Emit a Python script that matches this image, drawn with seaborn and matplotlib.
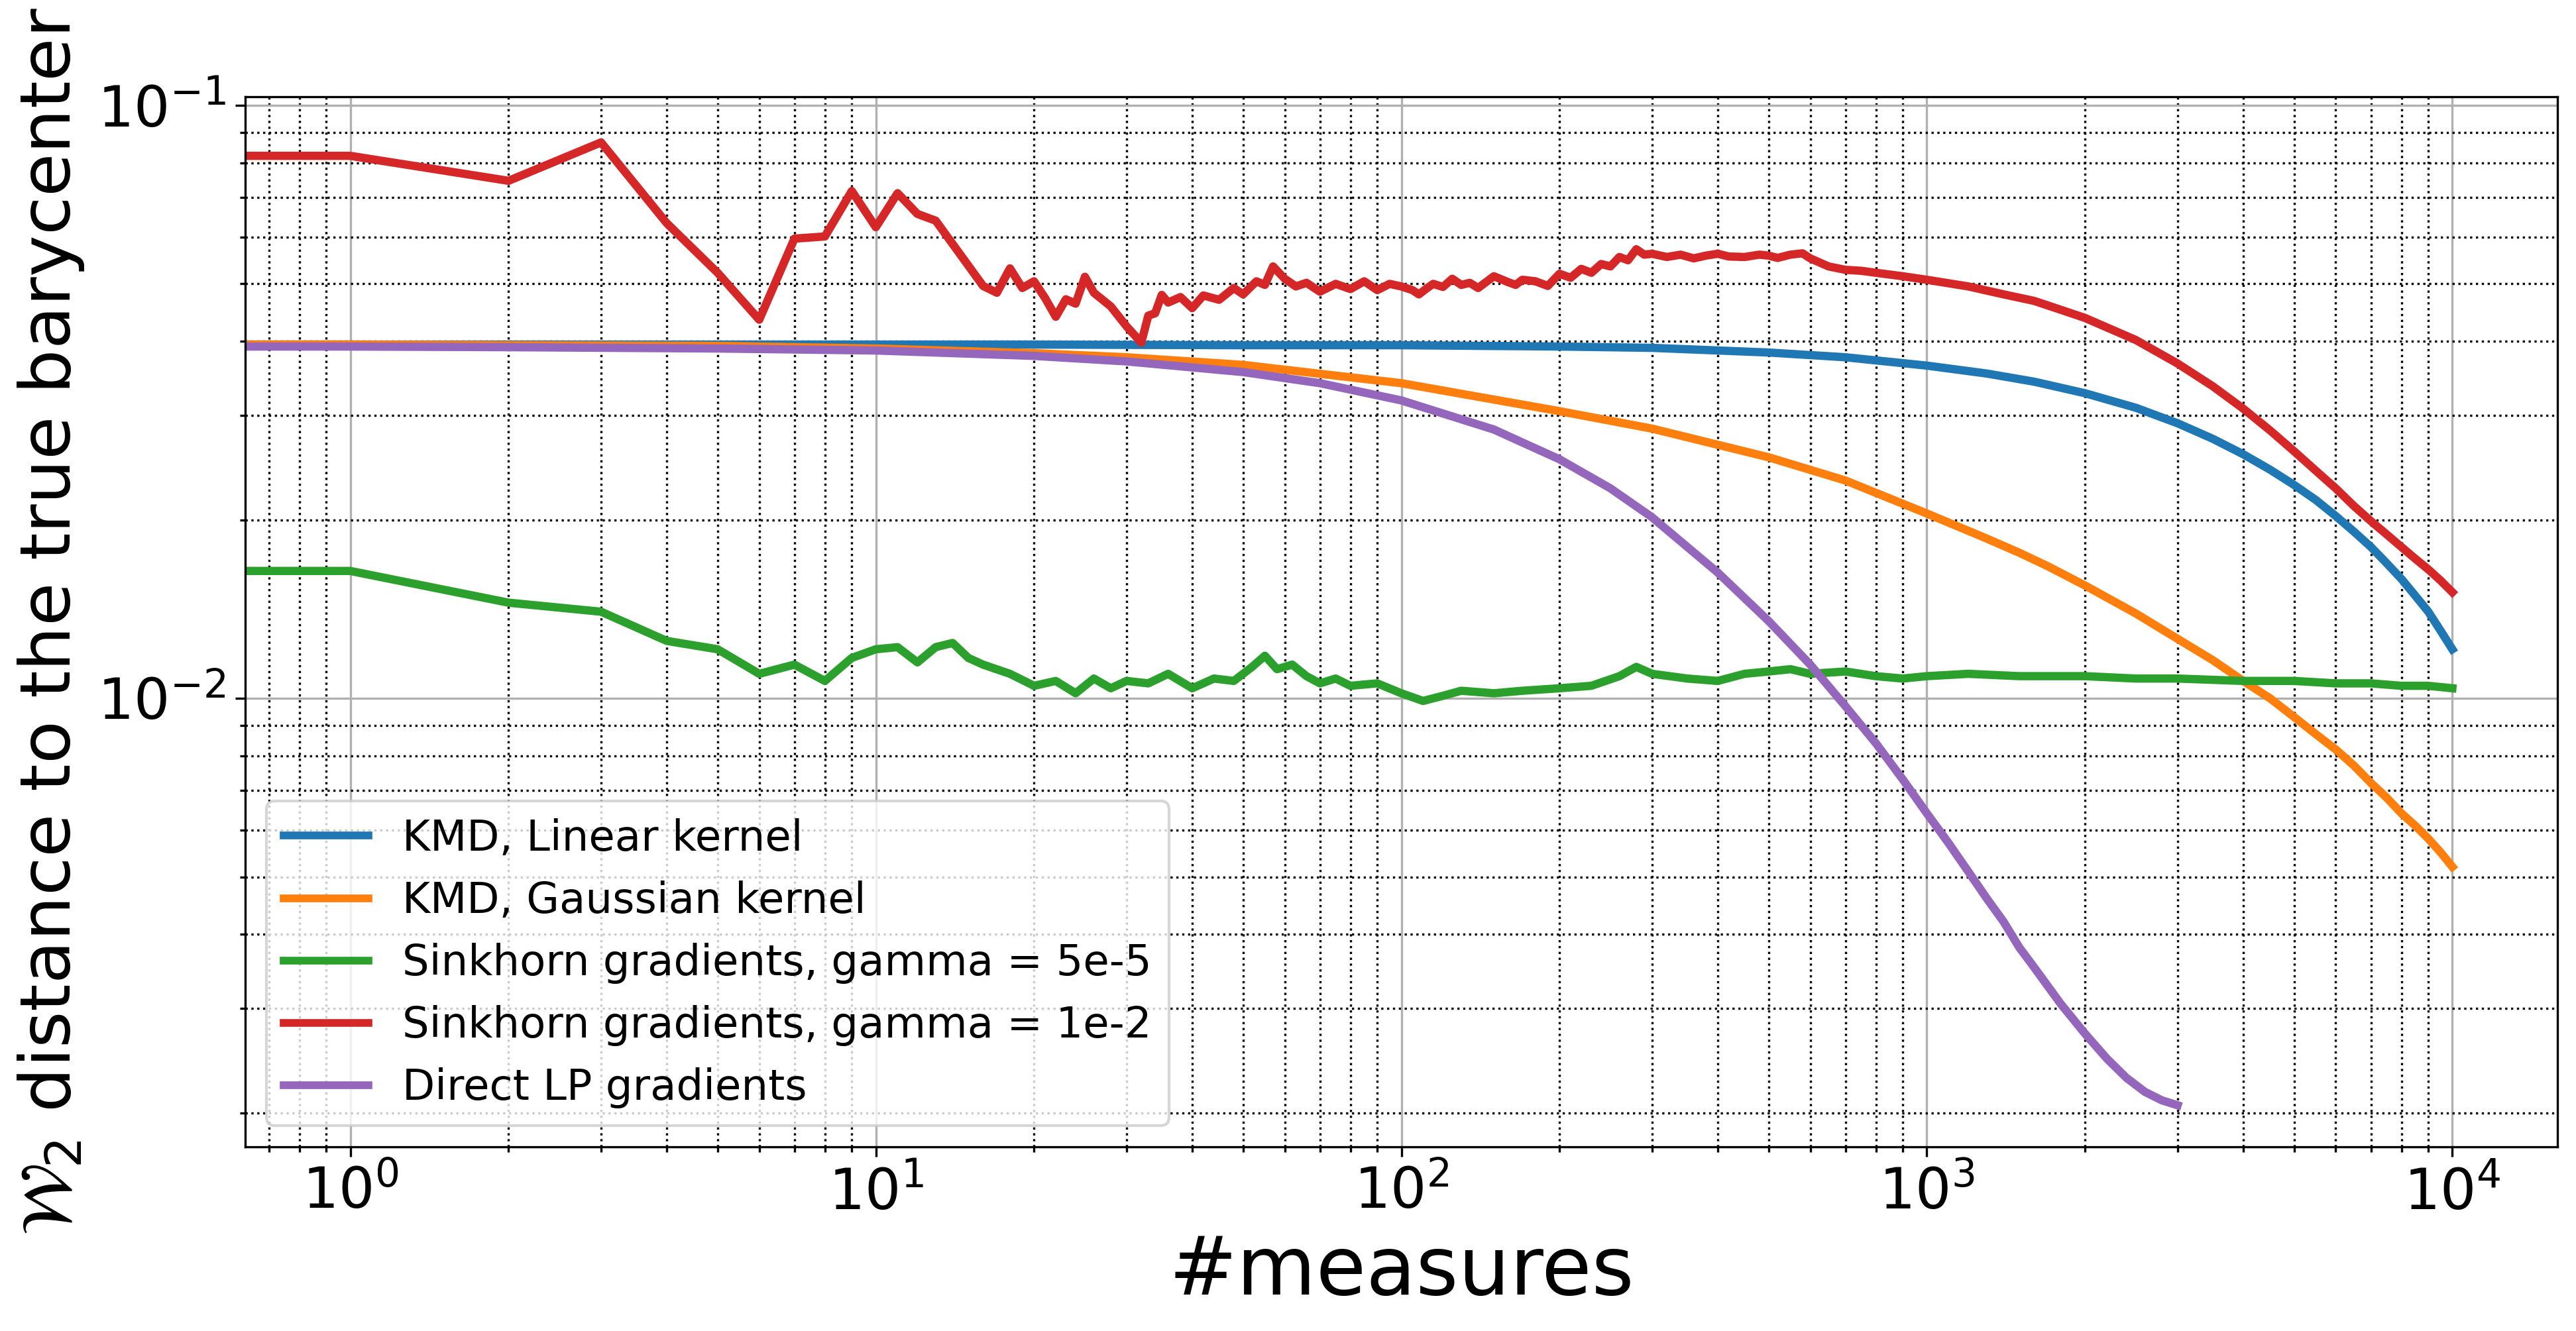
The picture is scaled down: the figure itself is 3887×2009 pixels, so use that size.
import numpy as np
import pandas as pd
import matplotlib
matplotlib.use("Agg")
import matplotlib.pyplot as plt
import seaborn as sns

# ---------------- data ----------------
labels = ["KMD, Linear kernel", "KMD, Gaussian kernel",
          "Sinkhorn gradients, gamma = 5e-5", "Sinkhorn gradients, gamma = 1e-2",
          "Direct LP gradients"]
colors = ["#1f77b4", "#ff7f0e", "#2ca02c", "#d62728", "#9467bd"]

blue_x = [0, 1, 2, 5, 10, 20, 50, 100, 200, 300, 500, 700, 1000, 1300, 1600, 2000,
          2500, 3000, 3500, 4000, 4500, 5000, 5500, 6000, 6500, 7000, 7500, 8000,
          8500, 9000, 9500, 10000]
blue_y = [0.0395, 0.0395, 0.0395, 0.0395, 0.0395, 0.0395, 0.0394, 0.0394, 0.0392,
          0.0390, 0.0383, 0.0376, 0.0364, 0.0353, 0.0342, 0.0327, 0.0309, 0.0291,
          0.0274, 0.0258, 0.0243, 0.0229, 0.0216, 0.0203, 0.0191, 0.0180, 0.0169,
          0.0159, 0.0149, 0.0140, 0.0130, 0.0121]

orange_x = [0, 1, 2, 5, 10, 20, 30, 50, 100, 200, 300, 500, 700, 1000, 1300, 1500,
            1700, 2000, 2500, 3000, 3500, 4000, 4500, 5000, 5500, 6000, 6500, 7000,
            7500, 8000, 8500, 9000, 9500, 10000]
orange_y = [0.0395, 0.0395, 0.0394, 0.0393, 0.0389, 0.0382, 0.0376, 0.0365, 0.0340,
            0.0305, 0.0285, 0.0255, 0.0233, 0.0205, 0.0186, 0.0176, 0.0167, 0.0155,
            0.0139, 0.0126, 0.0116, 0.0107, 0.0100, 0.0093, 0.0087, 0.0082, 0.0077,
            0.0072, 0.0068, 0.0064, 0.0061, 0.0058, 0.0055, 0.0052]

green_x = [0, 1, 2, 3, 4, 5, 6, 7, 8, 9, 10, 11, 12, 13, 14, 15, 16, 18, 20, 22, 24,
           26, 28, 30, 33, 36, 40, 44, 48, 52, 55, 58, 62, 66, 70, 75, 80, 90, 100,
           110, 120, 130, 150, 170, 200, 230, 260, 280, 300, 350, 400, 450, 500, 550,
           600, 700, 800, 900, 1000, 1200, 1500, 2000, 2500, 3000, 4000, 5000, 6000,
           7000, 8000, 9000, 10000]
green_y = [0.0164, 0.0164, 0.0145, 0.0140, 0.0125, 0.0121, 0.0110, 0.0114, 0.0107,
           0.0117, 0.0121, 0.0122, 0.0115, 0.0122, 0.0124, 0.0117, 0.0114, 0.0110,
           0.0105, 0.0107, 0.0102, 0.0108, 0.0104, 0.0107, 0.0106, 0.0110, 0.0104,
           0.0108, 0.0107, 0.0113, 0.0118, 0.0112, 0.0114, 0.0109, 0.0106, 0.0108,
           0.0105, 0.0106, 0.0102, 0.0099, 0.0101, 0.0103, 0.0102, 0.0103, 0.0104,
           0.0105, 0.0109, 0.0113, 0.0110, 0.0108, 0.0107, 0.0110, 0.0111, 0.0112,
           0.0110, 0.0111, 0.0109, 0.0108, 0.0109, 0.0110, 0.0109, 0.0109, 0.0108,
           0.0108, 0.0107, 0.0107, 0.0106, 0.0106, 0.0105, 0.0105, 0.0104]

red_x = [0, 1, 2, 3, 4, 5, 6, 7, 8, 9, 10, 11, 12, 13, 16, 17, 18, 19, 20, 21, 22, 23,
         24, 25, 26, 28, 30, 32, 33, 34, 35, 36, 38, 40, 42, 45, 48, 50, 53, 55, 57,
         60, 63, 66, 70, 75, 80, 85, 90, 95, 100, 105, 108, 112, 115, 120, 125, 130,
         135, 140, 150, 160, 165, 170, 180, 190, 200, 210, 220, 230, 240, 250, 260,
         270, 280, 290, 300, 320, 340, 360, 380, 400, 420, 450, 480, 500, 520, 550,
         580, 600, 620, 650, 700, 750, 800, 900, 1000, 1200, 1400, 1600, 1800, 2000,
         2500, 3000, 3500, 4000, 4500, 5000, 5500, 6000, 6500, 7000, 7500, 8000, 8500,
         9000, 9500, 10000]
red_y = [0.0822, 0.0822, 0.0746, 0.0866, 0.0633, 0.0522, 0.0435, 0.0596, 0.0601,
         0.0717, 0.0623, 0.0711, 0.0656, 0.0639, 0.0496, 0.0483, 0.0531, 0.0492,
         0.0505, 0.0473, 0.0440, 0.0471, 0.0463, 0.0514, 0.0483, 0.0458, 0.0424,
         0.0398, 0.0442, 0.0446, 0.0479, 0.0465, 0.0475, 0.0455, 0.0478, 0.0470,
         0.0492, 0.0480, 0.0505, 0.0498, 0.0535, 0.0510, 0.0495, 0.0502, 0.0485,
         0.0500, 0.0490, 0.0505, 0.0488, 0.0500, 0.0495, 0.0488, 0.0480, 0.0492,
         0.0500, 0.0494, 0.0510, 0.0498, 0.0502, 0.0492, 0.0515, 0.0503, 0.0498,
         0.0508, 0.0505, 0.0496, 0.0520, 0.0512, 0.0530, 0.0522, 0.0540, 0.0535,
         0.0555, 0.0548, 0.0572, 0.0560, 0.0562, 0.0555, 0.0560, 0.0552, 0.0558,
         0.0562, 0.0556, 0.0555, 0.0560, 0.0558, 0.0553, 0.0560, 0.0563, 0.0552,
         0.0545, 0.0535, 0.0528, 0.0526, 0.0522, 0.0515, 0.0508, 0.0495, 0.0480,
         0.0468, 0.0452, 0.0438, 0.0402, 0.0367, 0.0336, 0.0308, 0.0283, 0.0261,
         0.0242, 0.0226, 0.0211, 0.0199, 0.0189, 0.0180, 0.0172, 0.0165, 0.0158,
         0.0151]

purple_x = [0, 1, 2, 5, 10, 20, 30, 50, 70, 100, 150, 200, 250, 300, 400, 500, 600,
            700, 800, 900, 1000, 1100, 1200, 1300, 1400, 1500, 1600, 1800, 2000, 2200,
            2400, 2600, 2800, 3000]
purple_y = [0.0392, 0.0392, 0.0391, 0.0389, 0.0386, 0.0378, 0.0370, 0.0355, 0.0340,
            0.0318, 0.0284, 0.0253, 0.0226, 0.0202, 0.0163, 0.0135, 0.0114, 0.0097,
            0.0084, 0.0073, 0.0064, 0.0057, 0.0051, 0.0046, 0.0042, 0.0038, 0.00352,
            0.00305, 0.00272, 0.00247, 0.00229, 0.00217, 0.00210, 0.00206]

series_x = [blue_x, orange_x, green_x, red_x, purple_x]
series_y = [blue_y, orange_y, green_y, red_y, purple_y]

frames = []
for lab, xs, ys in zip(labels, series_x, series_y):
    frames.append(pd.DataFrame({"x": xs, "y": ys, "method": lab}))
df = pd.concat(frames, ignore_index=True)

# ---------------- figure ----------------
W, H, DPI = 3887, 2009, 300
fig = plt.figure(figsize=(W / DPI, H / DPI), dpi=DPI)
ax = fig.add_axes([370 / W, 1 - 1731 / H, (3859 - 370) / W, (1731 - 146) / H])

sns.lineplot(data=df, x="x", y="y", hue="method", hue_order=labels,
             palette=colors, estimator=None, sort=False, linewidth=3.0,
             ax=ax, legend=True)

ax.set_xscale("log")
ax.set_yscale("log")
ax.set_xlim(10 ** -0.2, 10 ** 4.2)
ax.set_ylim(0.001753, 0.1034)

ax.grid(True, which="major", color="#b0b0b0", linewidth=0.8, linestyle="-")
ax.grid(True, which="minor", color="black", linewidth=0.8, linestyle=":")
ax.set_axisbelow(True)

ax.tick_params(axis="both", which="major", labelsize=20.5, length=3.5, width=0.8)
ax.tick_params(axis="both", which="minor", length=2, width=0.8)
for s in ax.spines.values():
    s.set_linewidth(0.8)
    s.set_color("black")

ax.set_xlabel("#measures", fontsize=29.5)
ax.set_ylabel(r"$\mathcal{W}_2$ distance to the true barycenter", fontsize=25.5)

handles, labs = ax.get_legend_handles_labels()
leg = ax.legend(handles, labs, loc="lower left", fontsize=15.4, title=None)
for ln in leg.get_lines():
    ln.set_linewidth(2.8)

fig.savefig("out.png", dpi=DPI)
